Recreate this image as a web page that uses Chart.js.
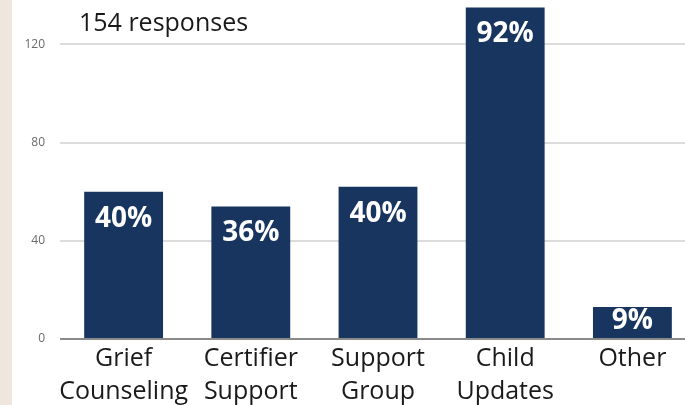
<!DOCTYPE html>
<html lang="en">
<head>
  <meta charset="UTF-8" />
  <title>154 responses</title>
  <script src="https://cdn.jsdelivr.net/npm/chart.js"></script>
  <style>
    html, body { margin: 0; padding: 0; width: 685px; height: 405px; overflow: hidden; background: #efe7dd; }
    #wrap { position: absolute; left: 12px; top: 0; width: 684px; height: 405px; background: #fff; }
  </style>
</head>
<body>
  <div id="wrap"><canvas id="chart" width="684" height="405"></canvas></div>

  <script>
    const categories = [["Grief", "Counseling"], ["Certifier", "Support"], ["Support", "Group"], ["Child", "Updates"], ["Other"]];
    const responses = [60, 54, 62, 135, 13];
    const percentLabels = ["40%", "36%", "40%", "92%", "9%"];
    const yTicks = [0, 40, 80, 120];
    const titleText = "154 responses";

    const FONT = "'Open Sans', 'Noto Sans', sans-serif";

    // percentages inside the bars + the response count in the top left
    const overlay = {
      id: "overlay",
      afterDatasetsDraw(chart) {
        const ctx = chart.ctx;
        const meta = chart.getDatasetMeta(0);
        ctx.save();
        ctx.fillStyle = "#ffffff";
        ctx.font = "bold 28px " + FONT;
        ctx.textAlign = "center";
        ctx.textBaseline = "middle";
        meta.data.forEach((bar, i) => {
          const mid = (bar.y + bar.base) / 2 - 2;
          const y = Math.min(bar.y + 27, mid);
          ctx.fillText(percentLabels[i], bar.x, y);
        });
        ctx.fillStyle = "#1a1a1a";
        ctx.font = "25px " + FONT;
        ctx.textAlign = "left";
        ctx.textBaseline = "alphabetic";
        ctx.fillText(titleText, chart.chartArea.left + 19, 31);
        ctx.restore();
      }
    };

    new Chart(document.getElementById("chart"), {
      type: "bar",
      data: {
        labels: categories,
        datasets: [{
          data: responses,
          backgroundColor: "#17355f",
          borderWidth: 0,
          categoryPercentage: 1,
          barPercentage: 0.62
        }]
      },
      options: {
        responsive: false,
        animation: false,
        layout: { padding: { top: 5, left: 0, right: 0, bottom: 0 } },
        plugins: { legend: { display: false }, tooltip: { enabled: false } },
        scales: {
          x: {
            grid: { display: false },
            border: { display: false },
            ticks: {
              color: "#1a1a1a",
              padding: -5,
              font: { family: FONT, size: 25, lineHeight: 1.32 },
              maxRotation: 0,
              autoSkip: false
            },
            afterFit(scale) { scale.height = 66; scale.paddingLeft = 0; scale.paddingRight = 0; }
          },
          y: {
            min: 0,
            max: 136,
            afterBuildTicks(scale) { scale.ticks = yTicks.map(v => ({ value: v })); },
            grid: {
              drawTicks: false,
              lineWidth: 2,
              color: ctx => ctx.tick && ctx.tick.value === 0 ? "#8a8a8a" : "#dcdcdc"
            },
            border: { display: false },
            ticks: {
              color: "#6a6a6a",
              padding: 15,
              font: { family: FONT, size: 12 }
            },
            afterFit(scale) { scale.width = 48; scale.paddingTop = 0; scale.paddingBottom = 0; }
          }
        }
      },
      plugins: [overlay]
    });
  </script>
</body>
</html>
